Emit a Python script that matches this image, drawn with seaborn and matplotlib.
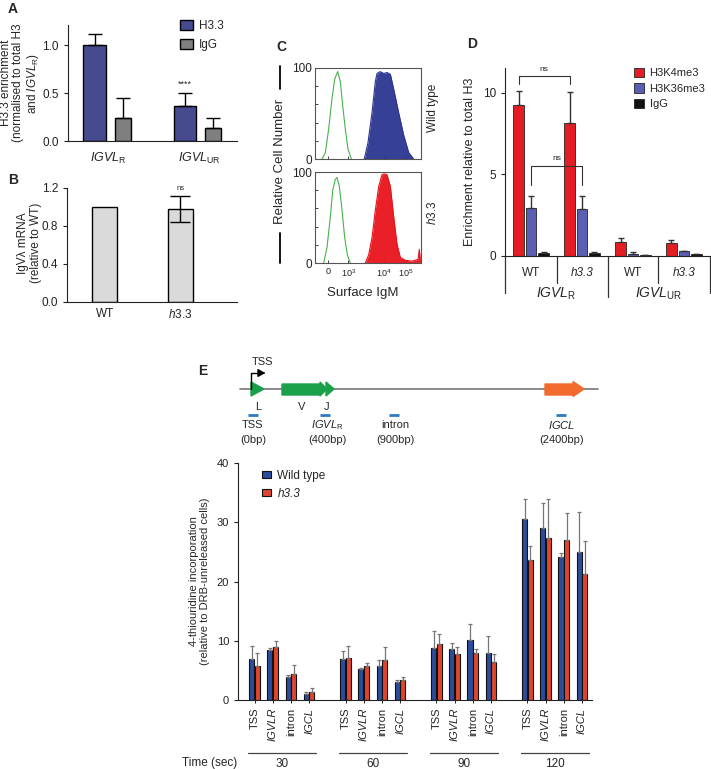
import numpy as np
import pandas as pd
import matplotlib
matplotlib.use("Agg")
import matplotlib.pyplot as plt
import seaborn as sns
from matplotlib.lines import Line2D
from matplotlib.patches import Polygon, Patch

# ---------------- data ----------------
# Panel A
A_sites = ["IGVL_R", "IGVL_UR"]
A_h33 = [1.00, 0.37]
A_h33_err = [0.12, 0.13]
A_igg = [0.24, 0.14]
A_igg_err = [0.21, 0.10]

# Panel B
B_geno = ["WT", "h3.3"]
B_mrna = [1.00, 0.98]
B_err = [0.0, 0.14]

# Panel C (histogram outlines, x in display channel units 0-100, y = % of max)
C_ticks = [12, 31.5, 65, 85.5]
C_ticklabels = ["0", "$10^3$", "$10^4$", "$10^5$"]
C_wt_iso_x = [6.6, 9.75, 12.9, 16.0, 18.6, 21.4, 23.9, 26.1, 28.6, 31.1, 34.3]
C_wt_iso_y = [0, 7, 33, 66, 88, 96, 85, 59, 33, 11, 0]
C_wt_x = [46.5, 50.0, 53.8, 56.9, 58.5, 61.5, 64.8, 68.0, 71.1, 74.2, 78.9, 83.7, 88.4, 93.1]
C_wt_y = [0, 18, 51, 85, 94, 96, 94, 95, 93, 77, 51, 26, 7, 0]
C_h33_iso_x = [8.2, 11.3, 14.5, 16.7, 19.2, 20.8, 23.0, 25.5, 28.0, 30.5, 33.3]
C_h33_iso_y = [0, 17, 51, 80, 92, 94, 84, 58, 28, 9, 0]
C_h33_x = [47.5, 50.6, 53.8, 56.9, 60.1, 63.2, 65.5, 67.9, 71.1, 74.2, 77.3, 80.5, 85.2, 91.5, 97.2, 98.4, 99.4]
C_h33_y = [0, 9, 28, 58, 84, 97, 98, 97, 84, 51, 21, 6, 3, 2, 4, 15, 2]

# Panel D
D_groups = ["WT_R", "h33_R", "WT_UR", "h33_UR"]
D_geno_labels = ["WT", "h3.3", "WT", "h3.3"]
D_marks = ["H3K4me3", "H3K36me3", "IgG"]
D_k4 = [9.25, 8.15, 0.85, 0.80]
D_k4_err = [0.85, 1.90, 0.25, 0.20]
D_k36 = [2.95, 2.90, 0.15, 0.30]
D_k36_err = [0.70, 0.75, 0.07, 0.03]
D_igg = [0.20, 0.20, 0.07, 0.10]
D_igg_err = [0.05, 0.04, 0.02, 0.03]

# Panel E
E_times = [30, 60, 90, 120]
E_sites = ["TSS", "IGVLR", "intron", "IGCL"]
E_wt = [6.85, 8.37, 3.93, 1.00, 6.85, 5.22, 5.80, 2.98, 8.70, 8.54, 10.17, 8.00, 30.5, 29.1, 24.2, 24.9]
E_wt_err = [2.30, 0.43, 0.37, 0.40, 1.41, 0.18, 0.95, 0.39, 2.90, 1.01, 2.63, 2.80, 3.5, 4.2, 0.6, 6.8]
E_h33 = [5.80, 9.00, 4.33, 1.40, 7.13, 5.80, 6.74, 3.30, 9.40, 7.70, 7.87, 6.46, 23.7, 27.3, 27.0, 21.2]
E_h33_err = [2.10, 1.00, 1.57, 0.57, 1.97, 0.40, 2.26, 0.63, 1.70, 1.20, 0.73, 1.24, 2.3, 6.6, 4.5, 5.7]

# ---------------- style ----------------
sns.set_theme(style="ticks")
plt.rcParams["font.family"] = ["Liberation Sans", "DejaVu Sans"]
plt.rcParams["mathtext.fontset"] = "custom"
plt.rcParams["mathtext.rm"] = "Liberation Sans"
plt.rcParams["mathtext.it"] = "Liberation Sans:italic"
plt.rcParams["mathtext.bf"] = "Liberation Sans:bold"
plt.rcParams["axes.linewidth"] = 0.8
plt.rcParams["axes.edgecolor"] = "#222222"
plt.rcParams["xtick.color"] = "#222222"
plt.rcParams["ytick.color"] = "#222222"

W, H = 711, 769
fig = plt.figure(figsize=(W / 100, H / 100), dpi=100)


def add_ax(l, t, r, b):
    return fig.add_axes([l / W, 1 - b / H, (r - l) / W, (b - t) / H])


def ftext(x, y, s, **kw):
    return fig.text(x / W, 1 - y / H, s, **kw)


def fline(xs, ys, **kw):
    fig.add_artist(Line2D([x / W for x in xs], [1 - y / H for y in ys],
                          transform=fig.transFigure, **kw))


def upper_err(ax, containers, errs_by_cat, color="black", lw=1.0, cap=3):
    for cont, errs in zip(containers, errs_by_cat):
        for p, e in zip(cont.patches, errs):
            if e <= 0:
                continue
            xc = p.get_x() + p.get_width() / 2
            ax.errorbar(xc, p.get_height(), yerr=[[0], [e]], fmt="none",
                        ecolor=color, elinewidth=lw, capsize=cap, capthick=lw, zorder=1)


# ---------------- Panel A ----------------
axA = add_ax(68, 25, 237, 141)
dfA = pd.DataFrame({
    "site": A_sites * 2,
    "ab": ["H3.3"] * 2 + ["IgG"] * 2,
    "val": A_h33 + A_igg,
})
sns.barplot(data=dfA, x="site", y="val", hue="ab", order=A_sites, hue_order=["H3.3", "IgG"],
            palette={"H3.3": "#3a3f9a", "IgG": "#7f7f7f"}, width=0.62, gap=0.2,
            edgecolor="black", linewidth=1.0, errorbar=None, ax=axA)
contsA = list(axA.containers)[:2]
for p in contsA[1].patches:
    c = p.get_x() + p.get_width() / 2
    p.set_width(0.175)
    p.set_x(c - 0.0875)
upper_err(axA, contsA, [A_h33_err, A_igg_err], lw=1.0, cap=5)
axA.set_xlim(-0.45, 1.42)
axA.set_ylim(0, 1.21)
axA.set_yticks([0, 0.5, 1.0])
axA.set_yticklabels(["0.0", "0.5", "1.0"], fontsize=8.5)
axA.set_xticks([0, 1])
axA.set_xticklabels([r"$\mathit{IGVL}_{\mathrm{R}}$", r"$\mathit{IGVL}_{\mathrm{UR}}$"], fontsize=9)
axA.tick_params(axis="x", length=0, pad=7)
axA.tick_params(axis="y", length=3, width=0.8)
axA.set_xlabel("")
axA.set_ylabel("H3.3 enrichment\n(normalised to total H3\nand " + r"$\mathit{IGVL}_{\mathrm{R}}$)",
               fontsize=8.5, linespacing=1.05)
axA.yaxis.set_label_coords(-0.16, 0.5)
sns.despine(ax=axA)
hA, lA = axA.get_legend_handles_labels()
axA.legend(hA, lA, loc="upper left", bbox_to_anchor=((180 - 68) / 169, 1.04), frameon=False,
           fontsize=8.5, handlelength=1.1, handleheight=0.9, labelspacing=0.55,
           handletextpad=0.5, borderaxespad=0, borderpad=0)
p0 = contsA[0].patches[1]
axA.text(p0.get_x() + p0.get_width() / 2, 0.54, "****", ha="center", va="bottom", fontsize=6.5)

# ---------------- Panel B ----------------
axB = add_ax(67, 188, 237, 302)
dfB = pd.DataFrame({"geno": B_geno, "val": B_mrna})
sns.barplot(data=dfB, x="geno", y="val", order=B_geno, color="#dadada", width=0.33,
            edgecolor="black", linewidth=1.0, errorbar=None, ax=axB, saturation=1)
for p, e in zip(axB.containers[0].patches, B_err):
    if e > 0:
        xc = p.get_x() + p.get_width() / 2
        axB.errorbar(xc, p.get_height(), yerr=e, fmt="none", ecolor="black",
                     elinewidth=1.0, capsize=7, capthick=1.0)
        axB.text(xc, p.get_height() + e + 0.04, "ns", ha="center", va="bottom", fontsize=5.5)
axB.set_xlim(-0.5, 1.75)
axB.set_ylim(0, 1.2)
axB.set_yticks([0, 0.4, 0.8, 1.2])
axB.set_yticklabels(["0.0", "0.4", "0.8", "1.2"], fontsize=8.5)
axB.set_xticks([0, 1])
axB.set_xticklabels(["WT", "$\\mathit{h3.3}$"], fontsize=8.5)
axB.tick_params(axis="x", length=0, pad=4)
axB.tick_params(axis="y", length=3, width=0.8)
axB.set_xlabel("")
axB.set_ylabel("IgV\u03bb mRNA\n(relative to WT)", fontsize=8.5, linespacing=1.1)
axB.yaxis.set_label_coords(-0.15, 0.52)
sns.despine(ax=axB)

# ---------------- Panel C ----------------
blue_c = "#2b3591"
red_c = "#e8141b"
green_c = "#45b34c"
axC1 = add_ax(315, 68, 421, 159)
axC2 = add_ax(315, 172, 421, 263)
for ax, ix, iy, fx, fy, col in [
    (axC1, C_wt_iso_x, C_wt_iso_y, C_wt_x, C_wt_y, blue_c),
    (axC2, C_h33_iso_x, C_h33_iso_y, C_h33_x, C_h33_y, red_c),
]:
    ax.fill_between(fx, fy, 0, color=col, lw=0, alpha=0.95)
    sns.lineplot(x=fx, y=fy, ax=ax, color=col, lw=0.8, sort=False, estimator=None)
    sns.lineplot(x=ix, y=iy, ax=ax, color=green_c, lw=0.8, sort=False, estimator=None)
    ax.set_xlim(0, 100)
    ax.set_ylim(0, 100)
    ax.set_yticks([0, 100])
    ax.set_yticklabels(["0", "100"], fontsize=8.5)
    ax.set_yticks([20, 40, 60, 80], minor=True)
    ax.set_xticks(C_ticks)
    ax.tick_params(axis="both", which="both", direction="in", length=2, width=0.6, pad=2)
    for s in ax.spines.values():
        s.set_color("#555555")
        s.set_linewidth(0.8)
axC1.set_xticklabels([])
axC2.set_xticklabels(C_ticklabels, fontsize=6.5)
axC2.tick_params(axis="x", pad=3)
ftext(433, 108, "Wild type", rotation=90, ha="center", va="center", fontsize=8.5)
ftext(433, 213, "$\\mathit{h3.3}$", rotation=90, ha="center", va="center", fontsize=8.5)
ftext(280, 161, "Relative Cell Number", rotation=90, ha="center", va="center", fontsize=9.5)
fline([280, 280], [66, 89], color="black", lw=1.3)
fline([280, 280], [233, 263], color="black", lw=1.3)
ftext(363, 293, "Surface IgM", ha="center", va="center", fontsize=9.5)

# ---------------- Panel D ----------------
axD = add_ax(505, 68, 710, 256)
dfD = pd.DataFrame({
    "grp": D_groups * 3,
    "mark": [m for m in D_marks for _ in D_groups],
    "val": D_k4 + D_k36 + D_igg,
})
palD = {"H3K4me3": "#e31d23", "H3K36me3": "#5b5fb4", "IgG": "#111111"}
sns.barplot(data=dfD, x="grp", y="val", hue="mark", order=D_groups, hue_order=D_marks,
            palette=palD, width=0.735, gap=0.15, edgecolor="#222222", linewidth=0.6,
            errorbar=None, ax=axD, saturation=1)
contsD = list(axD.containers)[:3]
upper_err(axD, contsD, [D_k4_err, D_k36_err, D_igg_err], color="#333333", lw=1.0, cap=2.5)
axD.set_xlim(-0.51, 3.51)
axD.set_ylim(0, 11.5)
axD.set_yticks([0, 5, 10])
axD.set_yticklabels(["0", "5", "10"], fontsize=8.5)
axD.tick_params(axis="y", length=3, width=0.8)
axD.set_xticks([])
axD.set_xlabel("")
axD.set_ylabel("Enrichment relative to total H3", fontsize=9)
axD.yaxis.set_label_coords(-0.14, 0.5)
sns.despine(ax=axD)
tD = axD.get_xaxis_transform()
for i, g in enumerate(D_geno_labels):
    axD.text(i, -0.09, g, transform=tD, ha="center", va="center", fontsize=8.5,
             style="italic" if g == "h3.3" else "normal")
for xv, yb in [(-0.51, -0.197), (0.5, -0.144), (1.5, -0.218), (2.5, -0.144), (3.51, -0.197)]:
    axD.plot([xv, xv], [0, yb], transform=tD, color="#333333", lw=0.9, clip_on=False)
axD.text(0.5, -0.2, r"$\mathit{IGVL}_{\mathrm{R}}$", transform=tD, ha="center", va="center", fontsize=10)
axD.text(2.5, -0.2, r"$\mathit{IGVL}_{\mathrm{UR}}$", transform=tD, ha="center", va="center", fontsize=10)
# significance brackets
bk = contsD[0].patches
bb = contsD[1].patches
def cx(p):
    return p.get_x() + p.get_width() / 2
axD.plot([cx(bk[0]), cx(bk[0]), cx(bk[1]), cx(bk[1])], [10.5, 11.0, 11.0, 10.5], color="#333333", lw=0.8, clip_on=False)
axD.text((cx(bk[0]) + cx(bk[1])) / 2, 11.2, "ns", ha="center", va="bottom", fontsize=6)
axD.plot([cx(bb[0]), cx(bb[0]), cx(bb[1]), cx(bb[1])], [4.35, 5.5, 5.5, 4.35], color="#333333", lw=0.8)
axD.text((cx(bb[0]) + cx(bb[1])) / 2, 5.75, "ns", ha="center", va="bottom", fontsize=6)
hD, lD = axD.get_legend_handles_labels()
axD.legend(hD, lD, loc="upper left", bbox_to_anchor=((634 - 505) / 205, 1.0), frameon=False,
           fontsize=8, handlelength=0.9, handleheight=0.9, labelspacing=0.45,
           handletextpad=0.5, borderaxespad=0, borderpad=0)

# ---------------- Panel E: gene schematic ----------------
axG = add_ax(180, 340, 711, 450)
axG.set_xlim(180, 711)
axG.set_ylim(450, 340)
axG.axis("off")
axG.plot([240, 598], [389, 389], color="#777777", lw=1.2, zorder=1)
gcol = "#1aa04a"
ocol = "#f26a2e"
axG.add_patch(Polygon([[251, 382], [251, 396], [264, 389]], closed=True, color=gcol, zorder=2))
axG.add_patch(Polygon([[282, 384], [320, 384], [320, 382], [327, 389], [320, 396], [320, 395], [282, 395]],
                      closed=True, color=gcol, zorder=2))
axG.add_patch(Polygon([[326, 382], [334, 389], [326, 396]], closed=True, color=gcol, zorder=2))
axG.add_patch(Polygon([[545, 384], [573, 384], [573, 381.5], [584, 389], [573, 396.5], [573, 395], [545, 395]],
                      closed=True, color=ocol, zorder=2))
axG.plot([251, 251, 262], [389, 373, 373], color="black", lw=1.0, zorder=3)
axG.annotate("", xy=(268, 373), xytext=(260, 373),
             arrowprops=dict(arrowstyle="-|>,head_length=0.35,head_width=0.2", color="black", lw=1.0))
axG.text(263, 362, "TSS", ha="center", va="center", fontsize=8)
for x, s in [(258, "L"), (302, "V"), (327, "J")]:
    axG.text(x, 407, s, ha="center", va="center", fontsize=8)
for x in [253, 325, 394, 561]:
    axG.plot([x - 5, x + 5], [415, 415], color="#2a7cc0", lw=2, solid_capstyle="butt")
for x, s1, s2 in [(253, "TSS", "(0bp)"), (327, r"$\mathit{IGVL}_{\mathrm{R}}$", "(400bp)"),
                  (395, "intron", "(900bp)"), (562, r"$\mathit{IGCL}$", "(2400bp)")]:
    axG.text(x, 425, s1, ha="center", va="center", fontsize=8)
    axG.text(x, 440, s2, ha="center", va="center", fontsize=8)

# ---------------- Panel E: bar chart ----------------
axE = add_ax(238, 463, 592, 700)
rows = []
for ti, t in enumerate(E_times):
    for si, s in enumerate(E_sites):
        k = ti * 4 + si
        rows.append({"pos": si + 5 * ti, "geno": "Wild type", "val": E_wt[k], "err": E_wt_err[k]})
        rows.append({"pos": si + 5 * ti, "geno": "h3.3", "val": E_h33[k], "err": E_h33_err[k]})
dfE = pd.DataFrame(rows)
sns.barplot(data=dfE, x="pos", y="val", hue="geno", hue_order=["Wild type", "h3.3"],
            palette={"Wild type": "#2c4c9c", "h3.3": "#e0452c"}, native_scale=True,
            width=0.62, gap=0.1, edgecolor="#111111", linewidth=0.8, errorbar=None,
            ax=axE, saturation=1)
errmap = {(r["geno"], r["pos"]): r["err"] for r in rows}
for cont, g in zip(list(axE.containers)[:2], ["Wild type", "h3.3"]):
    for p in cont.patches:
        xc = p.get_x() + p.get_width() / 2
        e = errmap[(g, int(round(xc)))]
        axE.errorbar(xc, p.get_height(), yerr=[[0], [e]], fmt="none", ecolor="#777777",
                     elinewidth=0.9, capsize=1.2, capthick=0.9, zorder=1)
positions = [si + 5 * ti for ti in range(len(E_times)) for si in range(len(E_sites))]
axE.set_xlim(-0.91, 18.55)
axE.set_ylim(0, 40)
axE.set_yticks([0, 10, 20, 30, 40])
axE.set_yticklabels(["0", "10", "20", "30", "40"], fontsize=8)
axE.set_xticks(positions)
axE.set_xticklabels(E_sites * len(E_times), rotation=90, fontsize=8)
for lab in axE.get_xticklabels():
    if lab.get_text() in ("IGVLR", "IGCL"):
        lab.set_style("italic")
axE.tick_params(axis="x", length=2.5, width=0.7, pad=3)
axE.tick_params(axis="y", length=3, width=0.8)
axE.set_xlabel("")
axE.set_ylabel("4-thiouridine incorporation\n(relative to DRB-unreleased cells)", fontsize=8, linespacing=1.1)
axE.yaxis.set_label_coords(-0.08, 0.5)
sns.despine(ax=axE)
tE = axE.get_xaxis_transform()
for ti, t in enumerate(E_times):
    axE.plot([5 * ti - 0.38, 5 * ti + 3.38], [-0.222, -0.222], transform=tE, color="#444444",
             lw=0.9, clip_on=False)
    axE.text(5 * ti + 1.5, -0.27, str(t), transform=tE, ha="center", va="center", fontsize=8.5)
ftext(237, 763, "Time (sec)", ha="right", va="center", fontsize=8.5)
hE, lE = axE.get_legend_handles_labels()
legE = axE.legend(hE, lE, loc="upper left", bbox_to_anchor=((262 - 238) / 354, (700 - 470) / 237),
                  frameon=False, fontsize=8.5, handlelength=0.8, handleheight=0.5,
                  labelspacing=0.5, handletextpad=0.5, borderaxespad=0, borderpad=0)
legE.get_texts()[1].set_style("italic")

# ---------------- panel letters ----------------
for x, y, s in [(8, 9, "A"), (8, 180, "B"), (276, 47, "C"), (467, 44, "D"), (198, 371, "E")]:
    ftext(x, y, s, fontsize=10, fontweight="bold", ha="left", va="center")

fig.savefig("out.png", dpi=100)
